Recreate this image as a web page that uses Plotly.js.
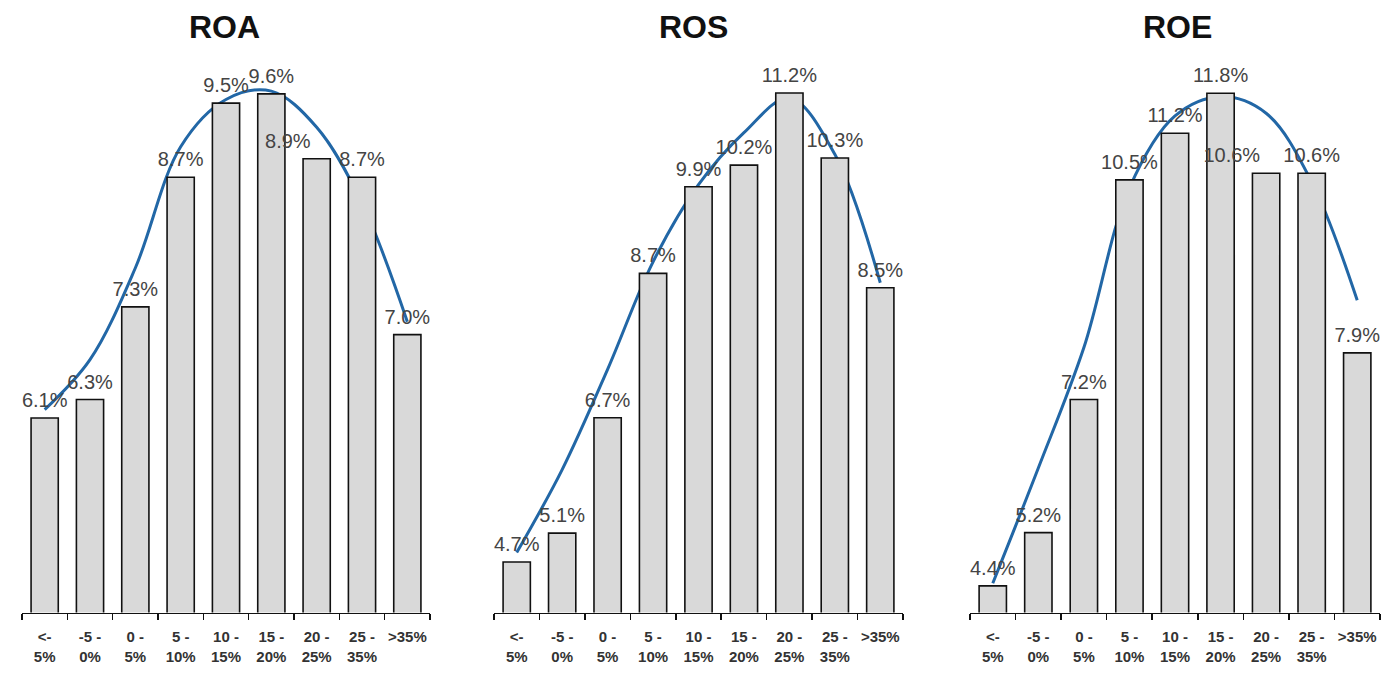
<!DOCTYPE html>
<html>
<head>
<meta charset="utf-8">
<script src="https://cdn.plot.ly/plotly-3.0.1.min.js"></script>
<style>
  html, body { margin: 0; padding: 0; background: #fff; }
  #chart { width: 1386px; height: 674px; }
</style>
</head>
<body>
<div id="chart"></div>
<script>
// Return-bucket categories shared by all three panels
const categories = ["&lt;-<br>5%", "-5 -<br>0%", "0 -<br>5%", "5 -<br>10%", "10 -<br>15%",
                    "15 -<br>20%", "20 -<br>25%", "25 -<br>35%", ">35%"];

// Share of firms per bucket (%)
const roaValues = [6.1, 6.3, 7.3, 8.7, 9.5, 9.6, 8.9, 8.7, 7.0];
const rosValues = [4.7, 5.1, 6.7, 8.7, 9.9, 10.2, 11.2, 10.3, 8.5];
const roeValues = [4.4, 5.2, 7.2, 10.5, 11.2, 11.8, 10.6, 10.6, 7.9];

// Smoothed trend curve values at each bucket
const roaTrend = [6.19, 6.73, 7.72, 9.03, 9.54, 9.63, 9.24, 8.42, 7.14];
const rosTrend = [4.83, 5.98, 7.37, 8.86, 9.93, 10.65, 11.13, 10.35, 8.57];
const roeTrend = [4.44, 6.17, 7.98, 10.38, 11.46, 11.75, 11.5, 10.47, 8.69];

const panelTitles = ["ROA", "ROS", "ROE"];

// nudge: bucket whose label is shifted left so it clears its neighbour's label
const panels = [
  { title: panelTitles[0], values: roaValues, trend: roaTrend, yTop: 9.75,  xPx: [22, 430],   titleX: 224,  nudge: 6 },
  { title: panelTitles[1], values: rosValues, trend: rosTrend, yTop: 11.38, xPx: [494, 903],  titleX: 693,  nudge: -1 },
  { title: panelTitles[2], values: roeValues, trend: roeTrend, yTop: 12.0,  xPx: [970, 1380], titleX: 1177, nudge: 6 }
];

const W = 1386, H = 674;
const plotBottom = 612.5, plotTop = 80;
const yDomain = [(H - plotBottom) / H, (H - plotTop) / H];
const FONT = "Liberation Sans, Arial, Helvetica, sans-serif";
const curveColor = "#2267a6";

const traces = [];
const layout = {
  width: W, height: H,
  margin: { l: 0, r: 0, t: 0, b: 0 },
  paper_bgcolor: "#fff", plot_bgcolor: "rgba(0,0,0,0)",
  showlegend: false,
  annotations: []
};

// hidden axis pair stacked over a panel's main axes
function overlayAxes(base, id, yTop) {
  layout["xaxis" + id] = {
    overlaying: "x" + base, anchor: "y" + id,
    type: "category", categories: categories, range: [-0.5, 8.5],
    visible: false, fixedrange: true
  };
  layout["yaxis" + id] = {
    overlaying: "y" + base, anchor: "x" + id,
    range: [4, yTop], visible: false, fixedrange: true
  };
}

panels.forEach((p, i) => {
  const base = i === 0 ? "" : String(i + 1);   // curve (bottom layer) + visible x axis
  const barId = String(i + 4);                 // bars, above the curve
  const lblId = String(i + 7);                 // value labels, on top

  // trend curve
  traces.push({
    type: "scatter", mode: "lines",
    x: categories, y: p.trend,
    line: { shape: "spline", smoothing: 1, color: curveColor, width: 3 },
    cliponaxis: false, hoverinfo: "skip",
    xaxis: "x" + base, yaxis: "y" + base
  });

  // bars
  traces.push({
    type: "bar",
    x: categories, y: p.values,
    width: 0.6,
    marker: { color: "#d9d9d9", line: { color: "#111", width: 1.6 } },
    hoverinfo: "skip",
    xaxis: "x" + barId, yaxis: "y" + barId
  });

  // value labels
  traces.push({
    type: "scatter", mode: "markers+text",
    x: categories, y: p.values,
    text: p.values.map(v => v.toFixed(1) + "%"),
    textposition: p.values.map((v, k) => k === p.nudge ? "top left" : "top center"),
    textfont: { family: FONT, size: 20, color: "#444" },
    marker: { size: 8, opacity: 0 },
    cliponaxis: false, hoverinfo: "skip",
    xaxis: "x" + lblId, yaxis: "y" + lblId
  });

  layout["xaxis" + base] = {
    domain: [p.xPx[0] / W, p.xPx[1] / W], anchor: "y" + base,
    type: "category", categories: categories, range: [-0.5, 8.5],
    showline: true, linecolor: "#111", linewidth: 1.5,
    ticks: "outside", tickson: "boundaries", ticklen: 6, tickwidth: 1.5, tickcolor: "#111",
    tickangle: 0,
    tickfont: { family: FONT, size: 15, color: "#333", weight: "bold" },
    ticklabelstandoff: 10,
    showgrid: false, zeroline: false, fixedrange: true
  };
  layout["yaxis" + base] = {
    domain: yDomain, anchor: "x" + base,
    range: [4, p.yTop], visible: false, fixedrange: true
  };
  overlayAxes(base, barId, p.yTop);
  overlayAxes(base, lblId, p.yTop);

  layout.annotations.push({
    xref: "paper", yref: "paper",
    x: p.titleX / W, y: 1 - 27 / H,
    xanchor: "center", yanchor: "middle",
    text: p.title, showarrow: false,
    font: { family: FONT, size: 32, color: "#111", weight: "bold" }
  });
});

Plotly.newPlot("chart", traces, layout, { staticPlot: true, displayModeBar: false });
</script>
</body>
</html>
